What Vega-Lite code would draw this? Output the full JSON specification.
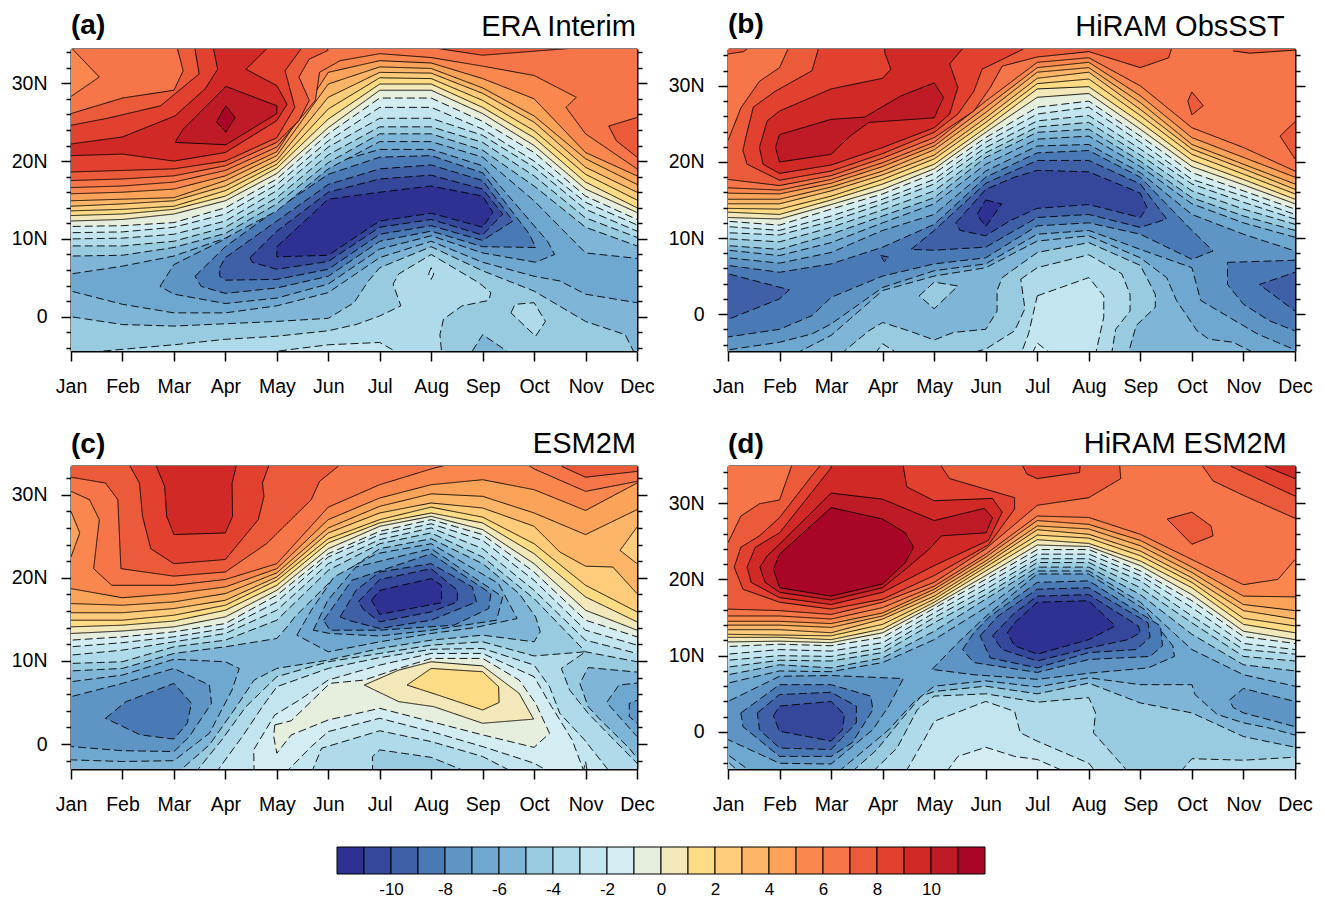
{"$schema":"https://vega.github.io/schema/vega-lite/v6.json","background":"white","padding":{"left":11,"top":11,"right":5,"bottom":5},"spacing":32,
"config":{"view":{"stroke":null},"font":"Liberation Sans","axis":{"grid":false,"title":null,"labelFont":"Liberation Sans","labelFontSize":19.5,"labelColor":"#000","tickColor":"#000","domainColor":"#000","tickWidth":1.5,"domainWidth":2,"zindex":1,"labelOverlap":false,"labelFlush":false,"labelBound":false}},
"datasets":{
"a":[
{"k":1,"c":5,"x":[0,13,13,0],"y":[-9,-9,40,40]},
{"k":2,"c":6,"x":[0.8,1,2,3,4,5,6,7,8,9,10,10.5,11,12,12.2,12.2,0.8],"y":[3.3,3.3,1.6,0.5,0.5,1.4,3.1,7.6,9.7,7.0,5.2,4.6,2.9,1.8,1.8,-8,-8]},
{"k":3,"c":7,"x":[0.8,1,2,3,4,5,6,6.5,6.78,7,8,9,10,11,11.77,11.93,11.93,0.8],"y":[0,0,-1.0,-1.2,-0.9,-0.6,-0.2,1.8,4.6,6.3,9.0,5.9,3.3,-0.6,-2.3,-4.4,-8,-8]},
{"k":4,"c":8,"x":[1.63,3,4,5,6,6.54,7,7.41,7.26,7.37,8,8.92,9.16,9.12,8.6,8.24,8.17,8.2,8.2,1.63],"y":[-4.4,-3.6,-2.9,-2.5,-1.8,-1.0,0.1,1.4,4.2,5.5,8.0,4.4,3.1,2.1,1.4,-0.3,-2.3,-4.4,-8,-8]},
{"k":5,"c":8,"x":[9.55,9.63,10,10.22,10.03,9.55],"y":[0.5,1.6,1.8,-0.6,-2.5,0.5]},
{"k":6,"c":6,"x":[8.8,9,9.47,9.47,8.8],"y":[-4.4,-2.3,-4.4,-8,-8]},
{"k":7,"c":9,"x":[5.04,6,7,7.29,7.29,5.04],"y":[-4.4,-3.6,-3.3,-4.4,-8,-8]},
{"k":8,"c":9,"x":[8,7.95,8,8.05,8],"y":[6.3,5.5,4.8,5.5,6.3]},
{"k":9,"c":4,"x":[2.73,3,4,5,6,7,8,9,10.26,10.4,10.03,9,8,7,6,5,4,3,2.73],"y":[3.9,6.7,10.0,14.9,19.6,21.5,21.5,19.4,9.7,8.0,7.0,8.2,10.4,8.7,4.2,2.4,1.7,2.9,3.9]},
{"k":10,"c":3,"x":[3.41,4,5,6,7,8,9,9.91,10.03,9,8,7,6,5,4,3.53,3.41],"y":[5.2,9.0,13.8,18.3,20.5,20.7,18.5,10.6,8.9,9.0,11.0,9.7,5.2,3.7,3.0,3.9,5.2]},
{"k":11,"c":2,"x":[3.89,4,5,6,7,8,9,9.59,9,8,7,6,5,4,3.89,3.89],"y":[6.3,7.6,12.3,17.0,19.0,19.5,17.5,12.3,9.8,11.7,10.6,6.1,4.8,4.7,5.2,6.3]},
{"k":12,"c":1,"x":[4.48,5,6,7,8,9,9.39,9,8,7,6,5,4.52,4.48],"y":[7.6,11.0,16.0,17.7,18.2,16.4,13.2,10.5,12.5,11.5,7.1,6.1,7.0,7.6]},
{"k":13,"c":0,"x":[5,6,7,8,9,9.2,9,8,7,6,5,5],"y":[9.0,15.1,16.0,16.8,15.5,13.4,11.5,13.3,12.3,7.9,7.7,9.0]},
{"k":14,"c":6,"x":[0.8,1,2,3,4,5,6,7,8,9,10,11,12,12.2,12.2,0.8],"y":[5.5,5.5,6.5,7.8,10.1,13.6,19.0,22.5,22.5,20.5,14.9,8.2,7.5,7.5,40,40]},
{"k":15,"c":7,"x":[0.8,1,2,3,4,5,6,7,8,9,10,11,12,12.2,12.2,0.8],"y":[7.8,7.8,7.9,8.9,10.7,14.5,19.8,23.5,23.5,21.4,16.8,11.5,9.1,9.1,40,40]},
{"k":16,"c":8,"x":[0.8,1,2,3,4,5,6,7,8,9,10,11,12,12.2,12.2,0.8],"y":[9.1,9.1,9.1,9.7,11.5,15.3,20.8,24.4,24.4,22.4,18.1,12.7,10.2,10.2,40,40]},
{"k":17,"c":9,"x":[0.8,1,2,3,4,5,6,7,8,9,10,11,12,12.2,12.2,0.8],"y":[10.0,10.0,10.1,10.6,12.3,16.2,21.8,25.5,25.5,23.3,19.2,13.8,11.0,11.0,40,40]},
{"k":18,"c":10,"x":[0.8,1,2,3,4,5,6,7,8,9,10,11,12,12.2,12.2,0.8],"y":[10.8,10.8,10.9,11.5,13.2,17.0,22.6,26.9,26.9,24.1,20.0,14.7,11.8,11.8,40,40]},
{"k":19,"c":11,"x":[0.8,1,2,3,4,5,6,7,8,9,10,11,12,12.2,12.2,0.8],"y":[11.6,11.6,11.7,12.1,14.0,17.7,23.5,28.1,28.1,25.1,21.1,15.5,12.5,12.5,40,40]},
{"k":20,"c":12,"x":[0.8,1,2,3,4,5,6,7,8,9,10,11,12,12.2,12.2,0.8],"y":[12.3,12.3,12.5,13.2,14.9,18.4,24.3,29.1,29.1,26.1,22.0,16.4,13.4,13.4,40,40]},
{"k":21,"c":13,"x":[0.8,1,2,3,4,5,6,7,8,9,10,11,12,12.2,12.2,0.8],"y":[13.0,13.0,13.2,13.8,15.5,19.1,25.4,29.9,29.9,26.9,23.0,17.3,14.0,14.0,40,40]},
{"k":22,"c":14,"x":[0.8,1,2,3,4,5,6,7,8,9,10,11,12,12.2,12.2,0.8],"y":[13.6,13.6,13.8,14.2,16.2,19.6,26.7,30.7,30.6,27.8,23.9,18.3,15.0,15.0,40,40]},
{"k":23,"c":15,"x":[0.8,1,2,3,4,5,6,7,8,9,10,11,12,12.2,12.2,0.8],"y":[14.2,14.2,14.5,14.9,16.8,20.1,28.2,31.4,31.3,28.7,25.0,19.2,16.0,16.0,40,40]},
{"k":24,"c":16,"x":[0.8,1,2,3,4,5,6,7,8,9,10,11,12,12.2,12.2,0.8],"y":[14.9,14.9,15.1,15.3,17.5,20.7,29.9,32.1,31.9,29.4,25.8,20.3,17.0,17.0,40,40]},
{"k":25,"c":17,"x":[0.8,1,2,3,4,5,6,7,8,9,10,11,12,12.2,12.2,0.8],"y":[15.8,15.8,16.0,16.4,18.1,21.2,31.4,32.9,32.6,30.6,28.0,21.1,18.1,18.1,40,40]},
{"k":26,"c":18,"x":[0.8,1,2,3,4,5,5.75,5.83,6.23,7,8,9,10,10.82,10.62,11,12,12.2,12.2,0.8],"y":[16.6,16.6,16.8,17.3,18.8,21.8,27.8,31.4,32.9,33.8,33.3,32.2,31.0,28.2,26.9,23.5,19.0,19.0,40,40]},
{"k":27,"c":17,"x":[0.8,1,1.55,1,0.8],"y":[28.3,28.3,30.8,34.6,34.6]},
{"k":28,"c":19,"x":[0.8,1,2,3,4,5,5.43,5.63,5.43,5.63,5.99,5.99,3.06,3.07,3.18,3,2,1,0.8],"y":[17.5,17.5,17.7,18.1,19.4,22.4,25.2,27.8,30.8,33.1,34.2,36,36,34.4,31.6,29.1,28.1,26.1,26.1]},
{"k":29,"c":20,"x":[0.8,1,2,3,4,5,5.35,5.16,5.47,5.47,3.41,3.41,3.49,2.74,1.71,1,0.8],"y":[18.6,18.6,18.8,19.0,20.0,23.0,26.9,31.6,34.4,36,36,34.4,31.2,27.1,25.5,24.6,24.6]},
{"k":30,"c":21,"x":[0.8,1,2,3,4,5,5.2,5,4.4,4.8,4.8,3.77,3.77,3.85,3.61,3.02,2,1,0.8],"y":[20.7,20.7,20.9,20.0,21.1,25.2,27.3,29.7,31.8,34.4,36,36,34.4,31.8,29.3,25.8,23.1,22.2,22.2]},
{"k":31,"c":22,"x":[4.01,5,5,4.01,3.02,3.18,4.01],"y":[29.6,27.1,26.1,22.1,22.4,24.1,29.6]},
{"k":32,"c":23,"x":[4.01,4.19,4.01,3.83,3.89,4.01],"y":[27.1,25.6,23.7,25.0,25.8,27.1]},
{"k":33,"c":19,"x":[8,9,10.74,10.74,8],"y":[34.6,33.6,34.5,36,36]},
{"k":34,"c":19,"x":[12.1,12,11.45,11.6,12,12.1],"y":[25.9,25.6,24.5,22.6,20.5,20.2]}
],
"b":[
{"k":1,"c":4,"x":[0,13,13,0],"y":[-9,-9,40,40]},
{"k":2,"c":5,"x":[0.8,1,2,2.63,3,4,5,6,7,8,9,10,10.17,10.72,11.27,12,12.1,12.1,0.8],"y":[-4.7,-4.7,-3.7,-2.6,-1.3,3.5,5.7,6.6,10.5,11.0,8.5,6.1,1.8,-0.4,-2.6,-4.7,-4.7,-8,-8]},
{"k":3,"c":6,"x":[2.31,3,3.73,4,5,6,7,8,9,9.51,9.7,10.1,10.33,10.8,11.27,11.27,2.31],"y":[-5.2,-2.8,1.5,3.1,5.0,6.1,9.6,10.3,7.4,4.8,1.8,-2.2,-3.3,-3.7,-5.3,-8,-8]},
{"k":4,"c":7,"x":[3.18,3.73,4,4.51,5,5.38,6,6.22,6.22,6.32,7,8,9,9.29,9.29,8.92,8.76,8.76,3.18],"y":[-5.3,-2.2,-1.1,-2.2,-3.4,-2.4,-2.0,0.4,3.1,4.8,8.1,9.4,6.4,2.6,0.9,-1.5,-5.3,-8,-8]},
{"k":5,"c":8,"x":[6.68,7,8,8.64,8.8,8.8,8.52,8.44,8.44,5.61,5.61,6,6.56,6.76,6.68],"y":[4.6,6.1,7.8,5.3,2.6,0.4,-2.0,-5.3,-8,-8,-5.3,-4.6,-2.2,0.7,4.6]},
{"k":6,"c":9,"x":[7,8,8.29,8.29,8.13,8.13,6.6,6.68,6.83,6.95,7],"y":[2.4,4.8,2.4,-0.4,-5.3,-8,-8,-5.3,-2.6,0.9,2.4]},
{"k":7,"c":10,"x":[6.9,7,7.26,7.26,6.9],"y":[-5.2,-3.8,-5.2,-8,-8]},
{"k":8,"c":8,"x":[3.85,4,4.3,4.3,3.85],"y":[-5.2,-3.9,-5.2,-8,-8]},
{"k":9,"c":7,"x":[4.71,5,5.46,5,4.71],"y":[2.4,4.2,3.7,0.7,2.4]},
{"k":10,"c":3,"x":[0.8,1,2,3,4,5,6,7,8,9,10,10.41,10,9,8,7,6,5,4,3,2.63,2,1,0.8],"y":[6.4,6.4,5.5,6.6,8.8,11.8,18.0,21.2,21.5,18.0,11.0,8.3,7.2,10.5,12.0,11.6,7.4,6.6,5.0,2.2,-0.2,-2.0,-3.0,-3.0]},
{"k":11,"c":3,"x":[10.69,12.1,12.1,12,11.51,11,10.69,10.69],"y":[6.8,7.1,-2.2,-2.2,-0.9,1.3,3.9,6.8]},
{"k":12,"c":2,"x":[12.1,12,11.31,12,12.1],"y":[5.5,5.5,3.9,0.4,0.4]},
{"k":13,"c":2,"x":[0.8,1,2.19,2,1,0.8],"y":[5.5,5.3,3.2,2.0,-0.7,-0.7]},
{"k":14,"c":2,"x":[3.96,4.12,4.03,3.96],"y":[7.7,7.5,6.9,7.7]},
{"k":15,"c":2,"x":[4.55,5,6,7,8,9,9.51,9,8,7,6,5,4.55],"y":[8.5,11.0,17.2,20.2,20.2,17.1,12.5,11.4,13.1,12.7,8.8,8.4,8.5]},
{"k":16,"c":1,"x":[5.42,6,6.56,7,8,9,9.13,9,8,7,6.48,6,5.5,5.42],"y":[12.0,16.4,18.0,18.9,18.7,15.9,14.0,12.7,14.4,13.9,12.3,10.3,11.0,12.0]},
{"k":17,"c":0,"x":[6,6.31,6,5.83,6],"y":[15.0,14.5,11.5,13.1,15.0]},
{"k":18,"c":5,"x":[0.8,1,2,3,4,5,6,7,8,9,10,11,12,12.2,12.2,0.8],"y":[7.4,7.4,6.7,8.1,11.0,13.1,18.8,22.1,22.3,18.6,13.1,10.5,8.3,8.3,40,40]},
{"k":19,"c":6,"x":[0.8,1,2,3,4,5,6,7,8,9,10,11,12,12.2,12.2,0.8],"y":[8.4,8.4,7.7,9.4,12.0,14.5,19.7,23.0,23.4,19.4,14.5,12.0,10.1,10.1,40,40]},
{"k":20,"c":7,"x":[0.8,1,2,3,4,5,6,7,8,9,10,11,12,12.2,12.2,0.8],"y":[9.0,9.0,8.5,10.5,12.9,15.3,20.6,23.9,24.3,20.1,15.3,12.9,11.0,11.0,40,40]},
{"k":21,"c":8,"x":[0.8,1,2,3,4,5,6,7,8,9,10,11,12,12.2,12.2,0.8],"y":[9.9,9.9,9.5,11.4,13.7,16.2,21.2,24.6,25.2,20.9,16.2,13.8,11.8,11.8,40,40]},
{"k":22,"c":9,"x":[0.8,1,2,3,4,5,6,7,8,9,10,11,12,12.2,12.2,0.8],"y":[10.7,10.7,10.4,12.2,14.5,17.1,21.9,25.4,26.1,21.7,17.1,14.7,12.5,12.5,40,40]},
{"k":23,"c":10,"x":[0.8,1,2,3,4,5,6,7,8,9,10,11,12,12.2,12.2,0.8],"y":[11.5,11.5,11.0,12.9,15.1,17.7,22.6,26.3,27.2,22.6,17.7,15.5,13.1,13.1,40,40]},
{"k":24,"c":11,"x":[0.8,1,2,3,4,5,6,7,8,9,10,11,12,12.2,12.2,0.8],"y":[12.2,12.2,11.7,13.8,15.8,18.5,23.2,27.2,28.0,23.4,18.6,16.2,13.8,13.8,40,40]},
{"k":25,"c":12,"x":[0.8,1,2,3,4,5,6,7,8,9,10,11,12,12.2,12.2,0.8],"y":[12.7,12.7,12.5,14.4,16.4,19.1,23.9,28.5,29.0,24.3,19.4,17.0,14.5,14.5,40,40]},
{"k":26,"c":13,"x":[0.8,1,2,3,4,5,6,7,8,9,10,11,12,12.2,12.2,0.8],"y":[13.4,13.4,13.1,15.0,17.1,19.7,24.5,29.6,29.9,25.2,20.2,17.7,15.1,15.1,40,40]},
{"k":27,"c":14,"x":[0.8,1,2,3,4,5,6,7,8,9,10,11,12,12.2,12.2,0.8],"y":[13.9,13.9,13.8,15.5,17.7,20.4,25.2,30.3,30.9,26.1,21.0,18.4,15.8,15.8,40,40]},
{"k":28,"c":15,"x":[0.8,1,2,3,4,5,6,7,8,9,10,11,12,12.2,12.2,0.8],"y":[14.5,14.5,14.5,16.2,18.3,20.9,25.8,31.0,31.8,26.9,21.7,19.1,16.4,16.4,40,40]},
{"k":29,"c":16,"x":[0.8,1,2,3,4,5,6,7,8,9,10,11,12,12.2,12.2,0.8],"y":[15.1,15.1,15.1,16.7,18.8,21.6,26.5,31.8,32.4,27.8,22.3,19.7,17.1,17.1,40,40]},
{"k":30,"c":17,"x":[0.8,1,2,3,4,5,6,7,8,9,10,11,12,12.2,12.2,0.8],"y":[15.9,15.9,15.8,17.2,19.4,22.1,27.2,32.4,33.1,28.7,23.2,20.6,18.0,18.0,40,40]},
{"k":31,"c":18,"x":[0.8,1,2,3,4,5,6,7,8,9,10,11,12,12.2,12.2,0.8],"y":[16.6,16.6,16.3,17.7,19.9,22.6,28.0,33.1,33.7,30.0,24.5,21.9,18.8,18.8,40,40]},
{"k":32,"c":19,"x":[2.16,2.16,2,1.61,1.25,1,0.8,0.8,1,2,3,4,5,5.77,6.09,6.32,7,8,9,9.55,9.6,9.6],"y":[36,34.8,32.4,30.6,27.1,22.8,22.8,17.7,17.7,16.9,18.2,20.5,23.2,26.7,29.8,32.6,33.8,34.5,32.4,33.7,34.8,36]},
{"k":33,"c":19,"x":[0.8,1,1.3,1.38,1.38,0.8],"y":[34.2,34.2,34.5,34.9,36,36]},
{"k":34,"c":20,"x":[2.75,2.75,2.63,1.92,1.49,1.33,1.29,1.37,2,3,4,5,5.46,5.77,5.93,6.72,6.72],"y":[36,34.8,32.0,29.3,27.2,22.8,21.5,19.7,17.6,18.8,21.1,23.9,26.3,29.3,32.2,34.8,36]},
{"k":35,"c":21,"x":[1.61,1.76,2,3,4,4.16,4.04,4.04,5.54,5.54,5.3,5.46,5.3,5,4,3,2,1.68,1.61],"y":[21.9,25.4,26.7,29.6,31.0,32.2,34.4,36,36,34.8,32.9,29.8,26.3,24.5,21.9,19.6,18.5,19.7,21.9]},
{"k":36,"c":22,"x":[1.92,2,3,3.65,4.36,5,5.18,5,3.73,3.37,3,2,1.92],"y":[21.9,23.6,25.6,25.9,28.7,30.4,28.5,25.8,25.2,23.4,21.0,20.0,21.9]},
{"k":38,"c":19,"x":[10,10.22,10,9.92,10],"y":[29.2,27.4,26.2,28.0,29.2]},
{"k":39,"c":19,"x":[12.1,12,11.71,12,12.1],"y":[25.2,25.3,23.4,20.4,20.4]},
{"k":40,"c":19,"x":[10.8,11.12,12,12.1,12.1,10.8],"y":[34.6,34.3,34.7,34.7,36,36]}
],
"c":[
{"k":1,"c":7,"x":[0,13,13,0],"y":[-9,-9,40,40]},
{"k":2,"c":6,"x":[0.8,1,2,3,4,5,5.2,5.35,6,7,8,9,9.71,10.03,10.12,10,9,8,7,6,5,4.56,4.17,3.69,3.06,3.06,0.8],"y":[8.8,8.8,9.1,10.9,11.7,12.7,14.1,15.3,19.3,23.5,24.7,21.7,18.1,15.3,13.5,12.3,13.1,12.5,11.5,10.1,9.1,7.7,4.1,-0.1,-3.5,-8,-8]},
{"k":3,"c":6,"x":[12.1,11.05,10.89,11.05,11.29,11.85,12,12.1,12.1],"y":[8.6,9.2,7.3,4.5,2.9,-0.5,-1.7,-1.7,8.6]},
{"k":4,"c":5,"x":[12.1,11.65,11.41,12,12.1],"y":[7.4,7.1,5.0,0.9,0.9]},
{"k":5,"c":4,"x":[12.1,11.85,11.85,12,12.1],"y":[5.5,4.9,3.3,2.5,2.5]},
{"k":6,"c":5,"x":[0.8,1,2,3,4,4.27,4.13,3.69,3,2,1,0.8],"y":[7.5,7.5,8.3,10.2,9.9,9.1,6.5,1.3,-2.0,-2.1,-1.9,-1.9]},
{"k":7,"c":4,"x":[0.8,1,2,3,3.69,3.73,3.3,3,2,1,0.8],"y":[5.7,5.7,7.3,9.1,7.1,4.9,0.9,-0.9,-0.8,-0.3,-0.3]},
{"k":8,"c":3,"x":[1.67,2.07,3,3.34,3.26,3,2.35,1.67],"y":[3.1,5.1,7.3,4.9,2.5,0.6,1.1,3.1]},
{"k":9,"c":5,"x":[5.39,5.67,6.11,6.94,8,9.31,9.67,8.84,8,7,6,5.39],"y":[13.1,16.1,20.1,22.9,24.1,19.3,15.1,14.0,13.3,12.3,11.1,13.1]},
{"k":10,"c":4,"x":[5.71,5.99,6.54,8,9.39,9.27,8,7,6.03,5.71],"y":[13.7,17.3,21.3,23.5,17.7,14.9,13.7,13.0,13.3,13.7]},
{"k":11,"c":3,"x":[5.91,6.46,8,9.16,9.12,8.44,7,6.03,5.91],"y":[14.9,19.7,22.9,18.1,16.3,14.3,13.7,13.7,14.9]},
{"k":12,"c":2,"x":[6.23,6.54,7,8,8.8,8.88,8,7,6.38,6.23],"y":[15.3,18.5,20.7,21.7,18.9,17.1,14.9,13.9,14.9,15.3]},
{"k":13,"c":1,"x":[6.58,7,8,8.51,8.51,8,7,6.7,6.58],"y":[17.1,19.8,21.1,18.5,17.1,15.9,14.7,16.1,17.1]},
{"k":14,"c":0,"x":[6.84,7,8,8.2,8.2,7,6.84],"y":[17.3,18.5,19.9,19.1,17.0,15.6,17.3]},
{"k":15,"c":8,"x":[3.41,3.93,4.4,5,6,7,8,9,10,11,10.53,10.69,11.05,11.49,12,12.1,12.1,3.41],"y":[-3.5,0.5,4.5,8.1,9.9,10.9,11.9,12.3,10.6,11.1,9.1,6.5,3.7,0.9,-2.3,-3.5,-8,-8]},
{"k":16,"c":9,"x":[3.81,4.33,4.72,5,6,7,8,9,10,10.3,10.5,10.98,11.49,11.49,3.81],"y":[-3.5,0.9,4.5,6.9,9.1,10.4,11.4,11.5,9.5,6.9,3.7,0.5,-3.5,-8,-8]},
{"k":17,"c":10,"x":[4.56,4.55,4.96,5.44,6,7,8,9,10,10.34,10.74,10.98,10.98,4.56],"y":[-3.5,-0.7,3.5,5.3,7.7,9.5,10.9,10.9,8.1,4.5,0.5,-3.5,-8,-8]},
{"k":18,"c":9,"x":[10.95,11,11.04,11.04,10.95],"y":[-3.5,-2.1,-3.5,-8,-8]},
{"k":19,"c":11,"x":[4.96,5.28,6.03,6.7,7.37,8,9,9.71,10.03,10.3,10,9,8,7,6,5.28,5,4.94,4.96],"y":[2.3,2.8,7.3,7.7,9.1,10.3,10.3,7.7,4.9,1.3,-0.4,1.1,2.7,4.3,2.9,1.1,-1.1,0.9,2.3]},
{"k":20,"c":12,"x":[6.7,7.37,8,9,9.71,9.99,9,8.05,7.37,6.7],"y":[7.1,8.9,9.9,9.4,6.1,3.0,2.5,4.5,5.1,7.1]},
{"k":21,"c":13,"x":[7.53,8,9,9.31,9.32,9,8.13,7.53],"y":[7.1,9.1,8.7,6.9,5.0,4.1,5.9,7.1]},
{"k":22,"c":9,"x":[5.16,5.67,6,7,8,9,10,10.34,10.34,5.16],"y":[-3.5,-0.3,1.5,3.1,1.5,-0.3,-2.3,-3.5,-8,-8]},
{"k":23,"c":8,"x":[5.67,5.87,7,8,9,9.63,9.63,5.67],"y":[-3.5,-0.5,1.6,0.3,-1.5,-3.5,-8,-8]},
{"k":24,"c":7,"x":[6.86,6.86,7,8,8.76,8.76,6.86],"y":[-3.5,-1.5,-0.7,-1.6,-3.5,-8,-8]},
{"k":25,"c":8,"x":[0.8,1,2,3,4,5,6,7,8,9,10,11,12,12.2,12.2,0.8],"y":[9.7,9.7,9.9,11.7,12.5,14.9,20.9,24.1,25.4,22.5,17.5,11.1,9.9,9.9,40,40]},
{"k":26,"c":9,"x":[0.8,1,2,3,4,5,6,7,8,9,10,11,12,12.2,12.2,0.8],"y":[10.7,10.7,11.3,12.3,13.3,16.1,21.7,24.6,26.0,23.5,18.5,12.5,10.9,10.9,40,40]},
{"k":27,"c":10,"x":[0.8,1,2,3,4,5,6,7,8,9,10,11,12,12.2,12.2,0.8],"y":[11.7,11.7,12.2,12.9,13.9,17.1,22.5,25.2,26.5,24.5,19.7,13.7,11.9,11.9,40,40]},
{"k":28,"c":11,"x":[0.8,1,2,3,4,5,6,7,8,9,10,11,12,12.2,12.2,0.8],"y":[12.5,12.5,12.9,13.5,14.5,17.9,22.9,25.6,27.0,25.2,20.7,14.9,12.9,12.9,40,40]},
{"k":29,"c":12,"x":[0.8,1,2,3,4,5,6,7,8,9,10,11,12,12.2,12.2,0.8],"y":[13.3,13.3,13.6,14.1,15.3,18.5,23.5,26.2,27.4,25.8,21.7,16.1,13.7,13.7,40,40]},
{"k":30,"c":13,"x":[0.8,1,2,3,4,5,6,7,8,9,10,11,12,12.2,12.2,0.8],"y":[14.1,14.1,14.3,14.8,16.1,19.1,24.2,26.6,27.8,26.6,22.9,17.7,14.7,14.7,40,40]},
{"k":31,"c":14,"x":[0.8,1,2,3,4,5,6,7,8,9,10,11,12,12.2,12.2,0.8],"y":[14.9,14.9,14.9,15.5,16.7,19.7,24.7,27.0,28.5,27.3,24.1,19.1,15.9,15.9,40,40]},
{"k":32,"c":15,"x":[0.8,1,2,3,4,5,6,7,8,9,10,10.5,11,11.53,12,12.2,12.2,0.8],"y":[15.8,15.8,15.8,16.3,17.3,20.1,25.4,27.8,29.0,28.4,26.2,23.1,21.4,21.3,18.1,18.1,40,40]},
{"k":33,"c":16,"x":[0.8,1,2,3,4,5,6,7,8,9,10,11,12,12.2,12.2,0.8],"y":[16.9,16.9,16.7,17.1,18.1,20.6,26.0,28.6,30.1,29.8,27.8,25.2,28.2,28.2,40,40]},
{"k":34,"c":14,"x":[12.1,12,11.67,12,12.1],"y":[26.1,26.1,23.3,21.7,21.7]},
{"k":35,"c":17,"x":[0.8,1,2,3,4,5,6,7,8,9,10,11,12,12.2,12.2,0.8],"y":[18.7,18.7,17.6,18.1,18.9,21.1,27.0,29.6,31.2,31.8,30.6,28.1,31.4,31.4,40,40]},
{"k":36,"c":16,"x":[0.8,1,1.17,1,0.8],"y":[28.0,28.0,25.4,22.5,22.5]},
{"k":37,"c":18,"x":[0.8,1,1.36,1.55,1.44,1.79,3,4,5,6,7,8,8.44,8.44,0.8],"y":[30.4,30.4,29.4,27.0,21.1,19.1,19.1,19.8,21.7,28.5,31.2,33.1,33.8,36,36]},
{"k":38,"c":18,"x":[9.9,10,11,12,12.1,12.1,9.9],"y":[33.5,33.1,30.4,31.6,31.6,36,36]},
{"k":39,"c":19,"x":[0.8,1,1.67,1.91,1.97,3,4,4.8,5.67,5.83,6.19,6.19,0.8],"y":[32.1,32.1,31.4,29.4,21.1,20.2,20.7,24.1,29.4,31.6,33.4,36,36]},
{"k":40,"c":20,"x":[2.15,2.15,2.33,2.39,2.55,3,4,4.64,4.75,4.72,4.84,4.84],"y":[36,33.4,31.4,27.4,23.5,21.7,22.2,27.0,29.8,31.4,33.4,36]},
{"k":41,"c":21,"x":[2.66,2.66,2.82,2.86,3,4,4.14,4.13,4.21,4.21],"y":[36,33.4,31.0,27.4,25.2,25.4,27.4,31.4,33.4,36]},
{"k":42,"c":19,"x":[10.54,10.54,11,12,12.1,12.1],"y":[36,33.4,32.1,32.8,32.8,36]}
],
"d":[
{"k":1,"c":5,"x":[0,13,13,0],"y":[-9,-9,40,40]},
{"k":2,"c":6,"x":[3.14,3.57,4.12,4.59,5,6,7,8,9,10,10.06,10.49,11,11.51,12,12.1,12.1,3.14],"y":[-5.2,-2.8,0.3,3.8,6.0,6.7,5.9,7.1,6.2,6.2,4.9,2.3,1.2,0.5,-0.4,-0.4,-8,-8]},
{"k":3,"c":7,"x":[3.41,3.89,4.36,4.75,5,6,7,8,9,10,11,12,12.1,12.1,3.41],"y":[-5.2,-2.3,1.6,4.7,5.3,6.0,5.0,6.4,3.8,2.5,-0.6,-2.0,-2.0,-8,-8]},
{"k":4,"c":8,"x":[3.81,4.28,4.67,5,6,7,8,8.13,8.09,8.76,8.76,3.81],"y":[-5.2,-2.1,2.9,4.7,5.0,3.9,4.5,2.5,-0.1,-5.2,-8,-8]},
{"k":5,"c":8,"x":[9.78,10,11,12,12.1,12.1,9.78],"y":[-5.2,-3.5,-3.7,-3.3,-3.3,-8,-8]},
{"k":6,"c":9,"x":[4.45,4.75,5,6,6.56,6.67,7,8,8.13,8.13,4.45],"y":[-5.2,-1.7,1.4,4.0,2.7,-0.1,-1.2,-4.1,-5.2,-8,-8]},
{"k":7,"c":10,"x":[5.24,5.46,6,6.56,7,7.54,7.54,5.24],"y":[-5.2,-3.2,-2.0,-3.2,-3.6,-5.2,-8,-8]},
{"k":8,"c":6,"x":[0.8,1,1.45,0.8],"y":[-3.0,-3.0,-5.2,-5.2]},
{"k":9,"c":7,"x":[0.8,1,1.21,0.8],"y":[-3.9,-3.9,-5.2,-5.2]},
{"k":10,"c":4,"x":[10.73,11,12,12.1,12.1,12,11,10.8,10.73],"y":[4.2,5.7,4.0,4.0,0.7,0.7,2.5,3.2,4.2]},
{"k":11,"c":4,"x":[0.8,1,2,3,4.4,4.12,3.81,3,2,1,0.8],"y":[4.0,4.0,7.3,7.4,7.0,3.4,0.3,-4.2,-4.1,-1.0,-1.0]},
{"k":12,"c":3,"x":[1.25,2,3,3.77,3.81,3.41,3,2,1.29,1.25],"y":[2.5,6.2,6.2,4.7,2.9,-1.4,-3.2,-3.2,0.7,2.5]},
{"k":13,"c":2,"x":[1.57,2,3,3.49,3.49,3,2,1.61,1.57],"y":[2.5,4.9,5.2,3.4,1.2,-2.3,-2.1,0.3,2.5]},
{"k":14,"c":1,"x":[1.88,2,3,3.26,3.22,3,2,1.88],"y":[2.1,3.4,4.0,2.3,0.3,-1.2,0.1,2.1]},
{"k":15,"c":4,"x":[4.96,5.46,6.01,7,8,9.07,9.63,9.66,9.15,8,7,5.77,4.96],"y":[8.2,11.7,15.2,20.7,20.7,16.1,11.3,9.9,8.4,7.7,6.9,7.5,8.2]},
{"k":16,"c":3,"x":[5.55,5.77,6.09,7,8,9.39,9.43,9.19,8,7,5.77,5.55],"y":[10.8,13.0,15.2,19.6,19.8,13.9,11.3,9.9,9.5,7.8,9.1,10.8]},
{"k":17,"c":2,"x":[5.89,6.24,7,8,9.15,9.19,8.92,8,7,6.09,5.89],"y":[12.6,15.2,18.7,18.9,14.3,12.4,10.8,10.4,8.4,9.7,12.6]},
{"k":18,"c":1,"x":[6.13,6.56,7,8,8.96,9,8.76,8,7,6.32,6.13],"y":[12.6,15.6,17.8,18.0,13.9,13.0,12.1,11.0,9.3,10.8,12.6]},
{"k":19,"c":0,"x":[6.42,6.56,7,8,8.51,8,7,6.56,6.42],"y":[13.0,14.3,17.0,17.2,13.9,12.1,10.2,11.3,13.0]},
{"k":20,"c":6,"x":[0.8,1,2,3,4,5,6,7,8,9,10,11,12,12.2,12.2,0.8],"y":[6.4,6.4,8.0,7.9,9.1,12.1,16.3,21.1,21.1,17.0,10.8,7.5,6.0,6.0,40,40]},
{"k":21,"c":7,"x":[0.8,1,2,3,4,5,6,7,8,9,10,11,12,12.2,12.2,0.8],"y":[7.5,7.5,8.8,8.4,9.7,13.2,17.4,21.6,21.6,18.0,12.8,8.8,8.0,8.0,40,40]},
{"k":22,"c":8,"x":[0.8,1,2,3,4,5,6,7,8,9,10,11,12,12.2,12.2,0.8],"y":[8.5,8.5,9.4,9.3,10.4,14.3,18.0,22.2,22.2,18.9,14.3,9.9,9.3,9.3,40,40]},
{"k":23,"c":9,"x":[0.8,1,2,3,4,5,6,7,8,9,10,11,12,12.2,12.2,0.8],"y":[9.4,9.4,10.0,9.9,11.0,15.0,18.7,22.7,22.7,19.8,15.2,10.8,10.2,10.2,40,40]},
{"k":24,"c":10,"x":[0.8,1,2,3,4,5,6,7,8,9,10,11,12,12.2,12.2,0.8],"y":[10.2,10.2,10.8,10.6,11.7,15.6,19.4,23.3,23.3,20.5,16.3,11.6,10.8,10.8,40,40]},
{"k":25,"c":11,"x":[0.8,1,2,3,4,5,6,7,8,9,10,11,12,12.2,12.2,0.8],"y":[11.2,11.2,11.5,11.3,12.4,16.2,20.0,23.9,23.9,21.1,17.2,12.5,11.6,11.6,40,40]},
{"k":26,"c":12,"x":[0.8,1,2,3,4,5,6,7,8,9,10,11,12,12.2,12.2,0.8],"y":[11.8,11.8,11.9,11.7,13.0,16.6,20.5,24.5,24.3,21.8,18.0,13.2,12.1,12.1,40,40]},
{"k":27,"c":13,"x":[0.8,1,2,3,4,5,6,7,8,9,10,11,12,12.2,12.2,0.8],"y":[12.4,12.4,12.4,12.1,13.5,17.0,21.1,25.2,24.7,22.4,18.9,14.1,13.0,13.0,40,40]},
{"k":28,"c":14,"x":[0.8,1,2,3,4,5,6,7,8,9,10,11,12,12.2,12.2,0.8],"y":[12.8,12.8,12.7,12.6,14.1,17.4,21.6,25.8,25.4,23.1,19.6,14.9,13.9,13.9,40,40]},
{"k":29,"c":15,"x":[0.8,1,2,3,4,5,6,7,8,9,10,11,12,12.2,12.2,0.8],"y":[13.4,13.4,13.4,13.0,14.8,17.8,22.0,26.5,25.9,23.7,20.2,15.9,14.8,14.8,40,40]},
{"k":30,"c":16,"x":[0.8,1,2,3,4,5,6,7,8,9,10,11,12,12.2,12.2,0.8],"y":[14.0,14.0,14.0,13.7,15.2,18.3,22.4,27.0,26.6,24.4,20.9,16.7,15.9,15.9,40,40]},
{"k":31,"c":17,"x":[0.8,1,2,3,4,5,6,7,8,9,10,11,12,12.2,12.2,0.8],"y":[14.5,14.5,14.5,14.2,15.6,18.7,22.9,27.7,27.2,25.1,21.6,17.8,17.7,17.7,40,40]},
{"k":32,"c":18,"x":[0.8,1,2,3,4,5,6,7,8,9,10,11,11.67,12,12.2,12.2,0.8],"y":[15.2,15.2,15.2,14.8,16.3,19.1,23.3,28.3,28.1,25.9,22.6,19.3,20.0,22.6,22.6,40,40]},
{"k":33,"c":19,"x":[0.8,1,2,3,4,5,6,7,8,8.62,8.6,8.6,2.23,2.23,2,1.61,1.25,1,0.8],"y":[16.1,16.1,15.9,15.4,17.0,19.6,24.0,29.7,30.7,33.2,34.8,36,36,34.8,30.4,29.9,28.3,24.8,24.8]},
{"k":34,"c":19,"x":[9.52,10,10.37,10.41,10,9.52],"y":[27.9,28.8,27.0,25.7,24.6,27.9]},
{"k":35,"c":19,"x":[10.21,10.21,10.41,11,12,12.1,12.1],"y":[36,34.8,32.9,31.0,28.0,28.0,36]},
{"k":36,"c":20,"x":[10.76,10.76,11.27,12,12.1,12.1],"y":[36,34.8,33.2,30.9,30.9,36]},
{"k":37,"c":21,"x":[11.43,11.43,12,12.1,12.1],"y":[36,34.8,33.2,33.2,36]},
{"k":38,"c":20,"x":[1.12,1.25,1.61,2,2.63,2.78,2.78,5.14,5.14,5.3,6.56,6.56,6.05,5,4,3,2,1.29,1.12],"y":[21.6,24.2,25.7,28.1,33.6,34.8,36,36,34.8,33.2,30.7,29.2,24.5,20.5,17.4,16.1,17.0,18.7,21.6]},
{"k":39,"c":20,"x":[6.72,6.72,6.8,7,7.82,7.83,7.83],"y":[36,34.8,33.8,33.2,34.0,34.8,36]},
{"k":40,"c":21,"x":[1.37,1.53,2,3,3,4.4,4.4,4.47,5,6.13,6.32,6.05,5,4,3,2,1.45,1.37],"y":[21.6,24.2,26.1,34.6,36,36,34.8,32.1,30.3,30.6,28.8,25.1,21.8,18.3,16.7,17.6,19.6,21.6]},
{"k":41,"c":22,"x":[1.62,1.76,2,3,4,5,5.97,6.13,6.01,5.14,4.91,4.44,4,3,2,1.72,1.62],"y":[21.6,23.1,24.6,31.3,30.5,27.7,29.3,28.1,26.1,25.7,24.0,21.3,18.9,17.3,18.3,19.6,21.6]},
{"k":42,"c":23,"x":[1.88,2,3,4,4.44,4.6,4.44,4,3,2,1.88],"y":[21.3,23.3,29.4,27.9,26.1,24.2,22.2,19.4,17.8,18.9,21.3]}
],
"bar":[{"lo":-12,"hi":-11,"c":0},{"lo":-11,"hi":-10,"c":1},{"lo":-10,"hi":-9,"c":2},{"lo":-9,"hi":-8,"c":3},{"lo":-8,"hi":-7,"c":4},{"lo":-7,"hi":-6,"c":5},{"lo":-6,"hi":-5,"c":6},{"lo":-5,"hi":-4,"c":7},{"lo":-4,"hi":-3,"c":8},{"lo":-3,"hi":-2,"c":9},{"lo":-2,"hi":-1,"c":10},{"lo":-1,"hi":0,"c":11},{"lo":0,"hi":1,"c":12},{"lo":1,"hi":2,"c":13},{"lo":2,"hi":3,"c":14},{"lo":3,"hi":4,"c":15},{"lo":4,"hi":5,"c":16},{"lo":5,"hi":6,"c":17},{"lo":6,"hi":7,"c":18},{"lo":7,"hi":8,"c":19},{"lo":8,"hi":9,"c":20},{"lo":9,"hi":10,"c":21},{"lo":10,"hi":11,"c":22},{"lo":11,"hi":12,"c":23}],
"anchor":[{"x":1,"y":0}]
},
"vconcat":[
{"spacing":34,"vconcat":[
{"spacing":13,"hconcat":[
{"width":566,"height":302,"resolve":{"axis":{"x":"independent","y":"independent"}},"layer":[
{"data":{"name":"a"},"transform":[{"flatten":["x","y"]}],"mark":{"type":"line","clip":true,"stroke":"#000","strokeWidth":0.9},"encoding":{"x":{"field":"x","type":"quantitative","scale":{"domain":[1,12],"nice":false,"zero":false},"axis":{"orient":"bottom","values":[1,2,3,4,5,6,7,8,9,10,11,12],"tickSize":10,"labelPadding":16,"labelExpr":"['Jan','Feb','Mar','Apr','May','Jun','Jul','Aug','Sep','Oct','Nov','Dec'][datum.value-1]"}},"y":{"field":"y","type":"quantitative","scale":{"domain":[-4.4,34.4],"nice":false,"zero":false},"axis":{"orient":"left","values":[0,10,20,30],"tickSize":10,"labelPadding":14,"labelExpr":"datum.value==0?'0':datum.value+'N'"}},"detail":{"field":"k","type":"nominal"},"fill":{"field":"c","type":"ordinal","legend":null,"scale":{"domain":[0,1,2,3,4,5,6,7,8,9,10,11,12,13,14,15,16,17,18,19,20,21,22,23],"range":["#2e3192","#35479b","#3f5fa7","#4a7ab5","#5f95c4","#6ea7cf","#7fb6d7","#98cbe0","#aedae9","#c3e5ef","#d3edf3","#e6eedd","#f3e8b9","#fedb85","#fecc7a","#fdb567","#fca35a","#f9874e","#f6764a","#eb5b3a","#e1412e","#d12a26","#bf1b26","#a90526"]}},"strokeDash":{"field":"c","type":"ordinal","legend":null,"scale":{"domain":[0,1,2,3,4,5,6,7,8,9,10,11,12,13,14,15,16,17,18,19,20,21,22,23],"range":[[8,4],[8,4],[8,4],[8,4],[8,4],[8,4],[8,4],[8,4],[8,4],[8,4],[8,4],[8,4],[1,0],[1,0],[1,0],[1,0],[1,0],[1,0],[1,0],[1,0],[1,0],[1,0],[1,0],[1,0]]}},"order":{"value":null}}},
{"data":{"name":"anchor"},"mark":{"type":"point","opacity":0},"encoding":{"x":{"field":"x","type":"quantitative","scale":{"domain":[1,12],"nice":false,"zero":false},"axis":{"orient":"top","ticks":false,"labels":false}},"y":{"field":"y","type":"quantitative","scale":{"domain":[-4.4,34.4],"nice":false,"zero":false},"axis":{"orient":"right","values":[0,10,20,30],"tickSize":10,"labels":false}}}},
{"data":{"name":"anchor"},"mark":{"type":"point","opacity":0},"encoding":{"x":{"field":"x","type":"quantitative","scale":{"domain":[1,12],"nice":false,"zero":false},"axis":null},"y":{"field":"y","type":"quantitative","scale":{"domain":[-4.4,34.4],"nice":false,"zero":false},"axis":{"orient":"left","values":[-4,-2,2,4,6,8,12,14,16,18,22,24,26,28,32,34],"tickSize":5,"labels":false,"domain":false}}}},
{"data":{"name":"anchor"},"mark":{"type":"point","opacity":0},"encoding":{"x":{"field":"x","type":"quantitative","scale":{"domain":[1,12],"nice":false,"zero":false},"axis":null},"y":{"field":"y","type":"quantitative","scale":{"domain":[-4.4,34.4],"nice":false,"zero":false},"axis":{"orient":"right","values":[-4,-2,2,4,6,8,12,14,16,18,22,24,26,28,32,34],"tickSize":5,"labels":false,"domain":false}}}},
{"data":{"values":[{"x":1,"y":36.3,"t":"(a)"}]},"mark":{"type":"text","align":"left","baseline":"alphabetic","fontWeight":"bold","fontSize":28,"font":"Liberation Sans","clip":false},"encoding":{"x":{"field":"x","type":"quantitative","scale":{"domain":[1,12],"nice":false,"zero":false},"axis":null},"y":{"field":"y","type":"quantitative","scale":{"domain":[-4.4,34.4],"nice":false,"zero":false},"axis":null},"text":{"field":"t"}}},
{"data":{"values":[{"x":11.98,"y":36.07,"t":"ERA Interim"}]},"mark":{"type":"text","align":"right","baseline":"alphabetic","fontSize":29,"font":"Liberation Sans","clip":false},"encoding":{"x":{"field":"x","type":"quantitative","scale":{"domain":[1,12],"nice":false,"zero":false},"axis":null},"y":{"field":"y","type":"quantitative","scale":{"domain":[-4.4,34.4],"nice":false,"zero":false},"axis":null},"text":{"field":"t"}}}
]},
{"width":567,"height":302,"resolve":{"axis":{"x":"independent","y":"independent"}},"layer":[
{"data":{"name":"b"},"transform":[{"flatten":["x","y"]}],"mark":{"type":"line","clip":true,"stroke":"#000","strokeWidth":0.9},"encoding":{"x":{"field":"x","type":"quantitative","scale":{"domain":[1,12],"nice":false,"zero":false},"axis":{"orient":"bottom","values":[1,2,3,4,5,6,7,8,9,10,11,12],"tickSize":10,"labelPadding":16,"labelExpr":"['Jan','Feb','Mar','Apr','May','Jun','Jul','Aug','Sep','Oct','Nov','Dec'][datum.value-1]"}},"y":{"field":"y","type":"quantitative","scale":{"domain":[-4.85,34.85],"nice":false,"zero":false},"axis":{"orient":"left","values":[0,10,20,30],"tickSize":10,"labelPadding":14,"labelExpr":"datum.value==0?'0':datum.value+'N'"}},"detail":{"field":"k","type":"nominal"},"fill":{"field":"c","type":"ordinal","legend":null,"scale":{"domain":[0,1,2,3,4,5,6,7,8,9,10,11,12,13,14,15,16,17,18,19,20,21,22,23],"range":["#2e3192","#35479b","#3f5fa7","#4a7ab5","#5f95c4","#6ea7cf","#7fb6d7","#98cbe0","#aedae9","#c3e5ef","#d3edf3","#e6eedd","#f3e8b9","#fedb85","#fecc7a","#fdb567","#fca35a","#f9874e","#f6764a","#eb5b3a","#e1412e","#d12a26","#bf1b26","#a90526"]}},"strokeDash":{"field":"c","type":"ordinal","legend":null,"scale":{"domain":[0,1,2,3,4,5,6,7,8,9,10,11,12,13,14,15,16,17,18,19,20,21,22,23],"range":[[8,4],[8,4],[8,4],[8,4],[8,4],[8,4],[8,4],[8,4],[8,4],[8,4],[8,4],[8,4],[1,0],[1,0],[1,0],[1,0],[1,0],[1,0],[1,0],[1,0],[1,0],[1,0],[1,0],[1,0]]}},"order":{"value":null}}},
{"data":{"name":"anchor"},"mark":{"type":"point","opacity":0},"encoding":{"x":{"field":"x","type":"quantitative","scale":{"domain":[1,12],"nice":false,"zero":false},"axis":{"orient":"top","ticks":false,"labels":false}},"y":{"field":"y","type":"quantitative","scale":{"domain":[-4.85,34.85],"nice":false,"zero":false},"axis":{"orient":"right","values":[0,10,20,30],"tickSize":10,"labels":false}}}},
{"data":{"name":"anchor"},"mark":{"type":"point","opacity":0},"encoding":{"x":{"field":"x","type":"quantitative","scale":{"domain":[1,12],"nice":false,"zero":false},"axis":null},"y":{"field":"y","type":"quantitative","scale":{"domain":[-4.85,34.85],"nice":false,"zero":false},"axis":{"orient":"left","values":[-4,-2,2,4,6,8,12,14,16,18,22,24,26,28,32,34],"tickSize":5,"labels":false,"domain":false}}}},
{"data":{"name":"anchor"},"mark":{"type":"point","opacity":0},"encoding":{"x":{"field":"x","type":"quantitative","scale":{"domain":[1,12],"nice":false,"zero":false},"axis":null},"y":{"field":"y","type":"quantitative","scale":{"domain":[-4.85,34.85],"nice":false,"zero":false},"axis":{"orient":"right","values":[-4,-2,2,4,6,8,12,14,16,18,22,24,26,28,32,34],"tickSize":5,"labels":false,"domain":false}}}},
{"data":{"values":[{"x":1,"y":36.9,"t":"(b)"}]},"mark":{"type":"text","align":"left","baseline":"alphabetic","fontWeight":"bold","fontSize":28,"font":"Liberation Sans","clip":false},"encoding":{"x":{"field":"x","type":"quantitative","scale":{"domain":[1,12],"nice":false,"zero":false},"axis":null},"y":{"field":"y","type":"quantitative","scale":{"domain":[-4.85,34.85],"nice":false,"zero":false},"axis":null},"text":{"field":"t"}}},
{"data":{"values":[{"x":11.8,"y":36.56,"t":"HiRAM ObsSST"}]},"mark":{"type":"text","align":"right","baseline":"alphabetic","fontSize":29,"font":"Liberation Sans","clip":false},"encoding":{"x":{"field":"x","type":"quantitative","scale":{"domain":[1,12],"nice":false,"zero":false},"axis":null},"y":{"field":"y","type":"quantitative","scale":{"domain":[-4.85,34.85],"nice":false,"zero":false},"axis":null},"text":{"field":"t"}}}
]}
]},
{"spacing":13,"hconcat":[
{"width":566,"height":303,"resolve":{"axis":{"x":"independent","y":"independent"}},"layer":[
{"data":{"name":"c"},"transform":[{"flatten":["x","y"]}],"mark":{"type":"line","clip":true,"stroke":"#000","strokeWidth":0.9},"encoding":{"x":{"field":"x","type":"quantitative","scale":{"domain":[1,12],"nice":false,"zero":false},"axis":{"orient":"bottom","values":[1,2,3,4,5,6,7,8,9,10,11,12],"tickSize":10,"labelPadding":16,"labelExpr":"['Jan','Feb','Mar','Apr','May','Jun','Jul','Aug','Sep','Oct','Nov','Dec'][datum.value-1]"}},"y":{"field":"y","type":"quantitative","scale":{"domain":[-3,33.45],"nice":false,"zero":false},"axis":{"orient":"left","values":[0,10,20,30],"tickSize":10,"labelPadding":14,"labelExpr":"datum.value==0?'0':datum.value+'N'"}},"detail":{"field":"k","type":"nominal"},"fill":{"field":"c","type":"ordinal","legend":null,"scale":{"domain":[0,1,2,3,4,5,6,7,8,9,10,11,12,13,14,15,16,17,18,19,20,21,22,23],"range":["#2e3192","#35479b","#3f5fa7","#4a7ab5","#5f95c4","#6ea7cf","#7fb6d7","#98cbe0","#aedae9","#c3e5ef","#d3edf3","#e6eedd","#f3e8b9","#fedb85","#fecc7a","#fdb567","#fca35a","#f9874e","#f6764a","#eb5b3a","#e1412e","#d12a26","#bf1b26","#a90526"]}},"strokeDash":{"field":"c","type":"ordinal","legend":null,"scale":{"domain":[0,1,2,3,4,5,6,7,8,9,10,11,12,13,14,15,16,17,18,19,20,21,22,23],"range":[[8,4],[8,4],[8,4],[8,4],[8,4],[8,4],[8,4],[8,4],[8,4],[8,4],[8,4],[8,4],[1,0],[1,0],[1,0],[1,0],[1,0],[1,0],[1,0],[1,0],[1,0],[1,0],[1,0],[1,0]]}},"order":{"value":null}}},
{"data":{"name":"anchor"},"mark":{"type":"point","opacity":0},"encoding":{"x":{"field":"x","type":"quantitative","scale":{"domain":[1,12],"nice":false,"zero":false},"axis":{"orient":"top","ticks":false,"labels":false}},"y":{"field":"y","type":"quantitative","scale":{"domain":[-3,33.45],"nice":false,"zero":false},"axis":{"orient":"right","values":[0,10,20,30],"tickSize":10,"labels":false}}}},
{"data":{"name":"anchor"},"mark":{"type":"point","opacity":0},"encoding":{"x":{"field":"x","type":"quantitative","scale":{"domain":[1,12],"nice":false,"zero":false},"axis":null},"y":{"field":"y","type":"quantitative","scale":{"domain":[-3,33.45],"nice":false,"zero":false},"axis":{"orient":"left","values":[-2,2,4,6,8,12,14,16,18,22,24,26,28,32],"tickSize":5,"labels":false,"domain":false}}}},
{"data":{"name":"anchor"},"mark":{"type":"point","opacity":0},"encoding":{"x":{"field":"x","type":"quantitative","scale":{"domain":[1,12],"nice":false,"zero":false},"axis":null},"y":{"field":"y","type":"quantitative","scale":{"domain":[-3,33.45],"nice":false,"zero":false},"axis":{"orient":"right","values":[-2,2,4,6,8,12,14,16,18,22,24,26,28,32],"tickSize":5,"labels":false,"domain":false}}}},
{"data":{"values":[{"x":1,"y":35.0,"t":"(c)"}]},"mark":{"type":"text","align":"left","baseline":"alphabetic","fontWeight":"bold","fontSize":28,"font":"Liberation Sans","clip":false},"encoding":{"x":{"field":"x","type":"quantitative","scale":{"domain":[1,12],"nice":false,"zero":false},"axis":null},"y":{"field":"y","type":"quantitative","scale":{"domain":[-3,33.45],"nice":false,"zero":false},"axis":null},"text":{"field":"t"}}},
{"data":{"values":[{"x":11.98,"y":35.0,"t":"ESM2M"}]},"mark":{"type":"text","align":"right","baseline":"alphabetic","fontSize":29,"font":"Liberation Sans","clip":false},"encoding":{"x":{"field":"x","type":"quantitative","scale":{"domain":[1,12],"nice":false,"zero":false},"axis":null},"y":{"field":"y","type":"quantitative","scale":{"domain":[-3,33.45],"nice":false,"zero":false},"axis":null},"text":{"field":"t"}}}
]},
{"width":567,"height":303,"resolve":{"axis":{"x":"independent","y":"independent"}},"layer":[
{"data":{"name":"d"},"transform":[{"flatten":["x","y"]}],"mark":{"type":"line","clip":true,"stroke":"#000","strokeWidth":0.9},"encoding":{"x":{"field":"x","type":"quantitative","scale":{"domain":[1,12],"nice":false,"zero":false},"axis":{"orient":"bottom","values":[1,2,3,4,5,6,7,8,9,10,11,12],"tickSize":10,"labelPadding":16,"labelExpr":"['Jan','Feb','Mar','Apr','May','Jun','Jul','Aug','Sep','Oct','Nov','Dec'][datum.value-1]"}},"y":{"field":"y","type":"quantitative","scale":{"domain":[-4.85,34.85],"nice":false,"zero":false},"axis":{"orient":"left","values":[0,10,20,30],"tickSize":10,"labelPadding":14,"labelExpr":"datum.value==0?'0':datum.value+'N'"}},"detail":{"field":"k","type":"nominal"},"fill":{"field":"c","type":"ordinal","legend":null,"scale":{"domain":[0,1,2,3,4,5,6,7,8,9,10,11,12,13,14,15,16,17,18,19,20,21,22,23],"range":["#2e3192","#35479b","#3f5fa7","#4a7ab5","#5f95c4","#6ea7cf","#7fb6d7","#98cbe0","#aedae9","#c3e5ef","#d3edf3","#e6eedd","#f3e8b9","#fedb85","#fecc7a","#fdb567","#fca35a","#f9874e","#f6764a","#eb5b3a","#e1412e","#d12a26","#bf1b26","#a90526"]}},"strokeDash":{"field":"c","type":"ordinal","legend":null,"scale":{"domain":[0,1,2,3,4,5,6,7,8,9,10,11,12,13,14,15,16,17,18,19,20,21,22,23],"range":[[8,4],[8,4],[8,4],[8,4],[8,4],[8,4],[8,4],[8,4],[8,4],[8,4],[8,4],[8,4],[1,0],[1,0],[1,0],[1,0],[1,0],[1,0],[1,0],[1,0],[1,0],[1,0],[1,0],[1,0]]}},"order":{"value":null}}},
{"data":{"name":"anchor"},"mark":{"type":"point","opacity":0},"encoding":{"x":{"field":"x","type":"quantitative","scale":{"domain":[1,12],"nice":false,"zero":false},"axis":{"orient":"top","ticks":false,"labels":false}},"y":{"field":"y","type":"quantitative","scale":{"domain":[-4.85,34.85],"nice":false,"zero":false},"axis":{"orient":"right","values":[0,10,20,30],"tickSize":10,"labels":false}}}},
{"data":{"name":"anchor"},"mark":{"type":"point","opacity":0},"encoding":{"x":{"field":"x","type":"quantitative","scale":{"domain":[1,12],"nice":false,"zero":false},"axis":null},"y":{"field":"y","type":"quantitative","scale":{"domain":[-4.85,34.85],"nice":false,"zero":false},"axis":{"orient":"left","values":[-4,-2,2,4,6,8,12,14,16,18,22,24,26,28,32,34],"tickSize":5,"labels":false,"domain":false}}}},
{"data":{"name":"anchor"},"mark":{"type":"point","opacity":0},"encoding":{"x":{"field":"x","type":"quantitative","scale":{"domain":[1,12],"nice":false,"zero":false},"axis":null},"y":{"field":"y","type":"quantitative","scale":{"domain":[-4.85,34.85],"nice":false,"zero":false},"axis":{"orient":"right","values":[-4,-2,2,4,6,8,12,14,16,18,22,24,26,28,32,34],"tickSize":5,"labels":false,"domain":false}}}},
{"data":{"values":[{"x":1,"y":36.55,"t":"(d)"}]},"mark":{"type":"text","align":"left","baseline":"alphabetic","fontWeight":"bold","fontSize":28,"font":"Liberation Sans","clip":false},"encoding":{"x":{"field":"x","type":"quantitative","scale":{"domain":[1,12],"nice":false,"zero":false},"axis":null},"y":{"field":"y","type":"quantitative","scale":{"domain":[-4.85,34.85],"nice":false,"zero":false},"axis":null},"text":{"field":"t"}}},
{"data":{"values":[{"x":11.84,"y":36.55,"t":"HiRAM ESM2M"}]},"mark":{"type":"text","align":"right","baseline":"alphabetic","fontSize":29,"font":"Liberation Sans","clip":false},"encoding":{"x":{"field":"x","type":"quantitative","scale":{"domain":[1,12],"nice":false,"zero":false},"axis":null},"y":{"field":"y","type":"quantitative","scale":{"domain":[-4.85,34.85],"nice":false,"zero":false},"axis":null},"text":{"field":"t"}}}
]}
]}
]},
{"width":914,"height":27,"data":{"name":"bar"},"mark":{"type":"rect","stroke":"#000","strokeWidth":1},"encoding":{"x":{"field":"lo","type":"quantitative","scale":{"domain":[-21.852,12],"nice":false,"zero":false},"axis":{"values":[-10,-8,-6,-4,-2,0,2,4,6,8,10],"ticks":false,"domain":false,"labelFontSize":17,"labelPadding":7,"labelExpr":"''+datum.value","zindex":0}},"x2":{"field":"hi"},"fill":{"field":"c","type":"ordinal","legend":null,"scale":{"domain":[0,1,2,3,4,5,6,7,8,9,10,11,12,13,14,15,16,17,18,19,20,21,22,23],"range":["#2e3192","#35479b","#3f5fa7","#4a7ab5","#5f95c4","#6ea7cf","#7fb6d7","#98cbe0","#aedae9","#c3e5ef","#d3edf3","#e6eedd","#f3e8b9","#fedb85","#fecc7a","#fdb567","#fca35a","#f9874e","#f6764a","#eb5b3a","#e1412e","#d12a26","#bf1b26","#a90526"]}}}}
]}
